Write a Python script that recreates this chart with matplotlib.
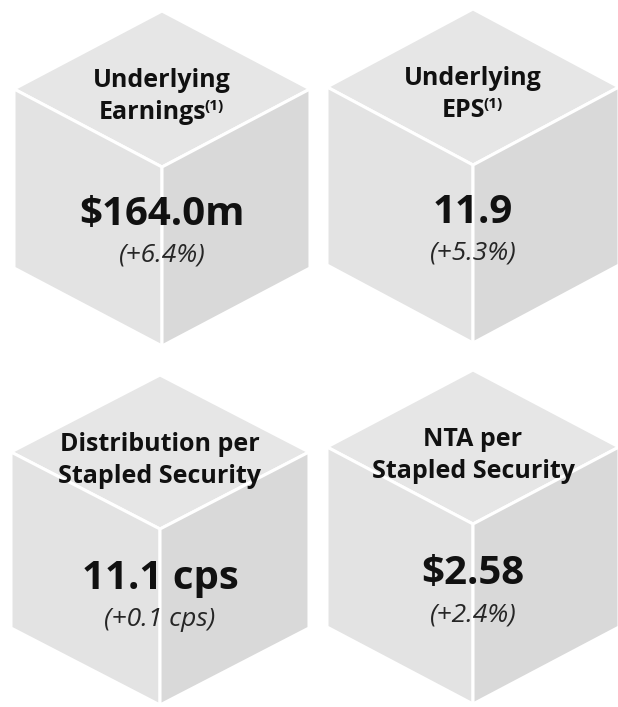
import matplotlib.pyplot as plt
from matplotlib.patches import Polygon

# data
titles = [["Underlying", "Earnings"], ["Underlying", "EPS"],
          ["Distribution per", "Stapled Security"], ["NTA per", "Stapled Security"]]
notes = ["(1)", "(1)", "", ""]
values = ["$164.0m", "11.9", "11.1 cps", "$2.58"]
changes = ["(+6.4%)", "(+5.3%)", "(+0.1 cps)", "(+2.4%)"]

# layout of the cubes in pixels: centre x, top y, half width, rise, side height
cubes = [(162, 11, 148, 78, 179), (473, 9, 146, 78, 178),
         (160, 375, 149, 77, 176), (473, 370, 146, 77, 180)]

TOP = "#e6e6e6"
LEFT = "#e3e3e3"
RIGHT = "#d9d9d9"
FONT = "Open Sans"

fig = plt.figure(figsize=(6.18, 7.07), dpi=100)
ax = fig.add_axes([0, 0, 1, 1])
ax.set_xlim(0, 618)
ax.set_ylim(707, 0)
ax.axis("off")


def draw_cube(cx, top, hw, dy, h):
    bot = top + 2 * dy + h
    faces = [
        ([(cx, top), (cx + hw, top + dy), (cx, top + 2 * dy), (cx - hw, top + dy)], TOP),
        ([(cx - hw, top + dy), (cx, top + 2 * dy), (cx, bot), (cx - hw, bot - dy)], LEFT),
        ([(cx + hw, top + dy), (cx, top + 2 * dy), (cx, bot), (cx + hw, bot - dy)], RIGHT),
    ]
    for pts, col in faces:
        ax.add_patch(Polygon(pts, closed=True, facecolor=col, edgecolor="white", lw=2.2))


renderer = fig.canvas.get_renderer()

for i, (cx, top, hw, dy, h) in enumerate(cubes):
    draw_cube(cx, top, hw, dy, h)
    y1 = top + 76
    y2 = top + 108
    ax.text(cx, y1, titles[i][0], ha="center", va="baseline", fontsize=18,
            fontweight="bold", family=FONT, color="#111111")
    if notes[i]:
        # main word plus raised note, centred as one group
        t = ax.text(0, 0, titles[i][1], fontsize=18, fontweight="bold", family=FONT)
        n = ax.text(0, 0, notes[i], fontsize=11, fontweight="bold", family=FONT)
        wt = t.get_window_extent(renderer).width
        wn = n.get_window_extent(renderer).width
        t.remove()
        n.remove()
        x0 = cx - (wt + wn) / 2
        ax.text(x0, y2, titles[i][1], ha="left", va="baseline", fontsize=18,
                fontweight="bold", family=FONT, color="#111111")
        ax.text(x0 + wt - 2, y2 - 9, notes[i], ha="left", va="baseline", fontsize=11,
                fontweight="bold", family=FONT, color="#111111")
    else:
        ax.text(cx, y2, titles[i][1], ha="center", va="baseline", fontsize=18,
                fontweight="bold", family=FONT, color="#111111")
    ax.text(cx, top + 214, values[i], ha="center", va="baseline", fontsize=29,
            fontweight="bold", family=FONT, color="#111111")
    ax.text(cx, top + 251, changes[i], ha="center", va="baseline", fontsize=19,
            style="italic", family=FONT, color="#262626")

fig.savefig("out.png", dpi=100)
